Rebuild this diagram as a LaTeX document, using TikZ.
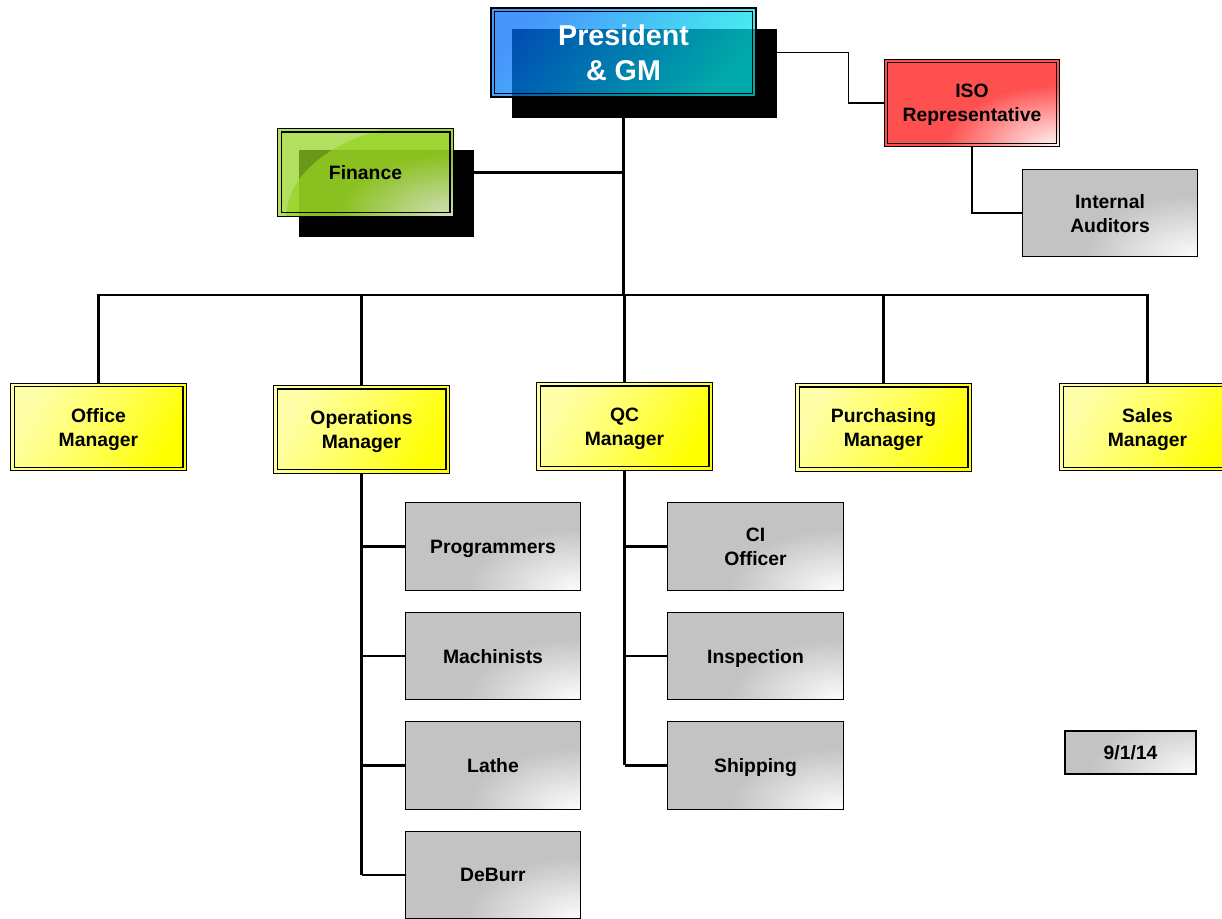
\documentclass[tikz,border=0pt]{standalone}
\usepackage{fontspec}
\setmainfont{Liberation Sans}
\usetikzlibrary{shadows,positioning,calc}

\definecolor{presA}{RGB}{0,110,250}
\definecolor{presB}{RGB}{0,235,235}
\definecolor{finA}{RGB}{150,210,35}
\definecolor{finB}{RGB}{250,250,245}
\definecolor{isoA}{RGB}{255,80,80}
\definecolor{isoB}{RGB}{255,245,245}
\definecolor{mgrA}{RGB}{255,255,170}
\definecolor{mgrB}{RGB}{255,255,0}
\definecolor{subA}{RGB}{195,195,195}
\definecolor{subB}{RGB}{252,252,252}
\colorlet{shA}{subA}
\colorlet{shB}{subB}

% light patch, flat outside
\pgfdeclareradialshading[shA,shB]{glowshade}{\pgfpoint{0bp}{0bp}}{color(0bp)=(shB);
  color(16bp)=(shA); color(50bp)=(shA)}

\newcommand\innerframe{\draw[line width=0.8pt]
  ([shift={(2.4pt,-2.4pt)}]path picture bounding box.north west) rectangle
  ([shift={(-2.4pt,2.4pt)}]path picture bounding box.south east);}
\newcommand\cornerglow[2]{\colorlet{shA}{#1}\colorlet{shB}{#2}\shade[shading=glowshade]
  (path picture bounding box.south east) ellipse (125pt and 72pt);}

\tikzset{
  box/.style={draw=black, line width=0.9pt, minimum width=131.5pt, minimum height=65.5pt,
    inner sep=0pt, text depth=0pt, align=center, font=\fontsize{14.5}{18}\selectfont\bfseries},
  blackshadow/.style={general shadow={fill=black, fill opacity=1, draw opacity=1,
    shadow xshift=15.75pt, shadow yshift=-15.75pt}},
  glow/.style 2 args={fill=#1, path picture={\cornerglow{#1}{#2}}},
  glowtwo/.style 2 args={fill=#1, path picture={\cornerglow{#1}{#2}\innerframe}},
  mgr/.style={box, top color=mgrA, bottom color=mgrB, middle color=mgrA!55!mgrB, shading angle=60,
    path picture={\innerframe}},
  sub/.style={box, glow={subA}{subB}},
  conn/.style={line width=1.8pt, line join=miter},
  thinconn/.style={line width=1pt},
}

\begin{document}
\begin{tikzpicture}[x=0.75pt, y=-0.75pt]
\useasboundingbox (0,0) rectangle (1222,919);
\clip (0,0) rectangle (1222,919);

% top of the chart
\node[box, blackshadow, minimum width=198.75pt, minimum height=66.75pt,
  top color=presA, bottom color=presB, shading angle=50, fill opacity=0.72, text opacity=1,
  path picture={\innerframe},
  text=white, font=\fontsize{21.5}{26}\selectfont\bfseries] (pres) at (623.5,52.5) {President\\\& GM};
\node[box, blackshadow, glowtwo={finA}{finB}, fill opacity=0.72, text opacity=1]
  (fin) at (365.5,172.5) {Finance};
\node[box, glowtwo={isoA}{isoB}] (iso) at (972,103) {ISO\\Representative};
\node[sub] (audit) at (1110,213) {Internal\\Auditors};

% managers
\node[mgr] (office) at (98.5,427) {Office\\Manager};
\node[mgr] (ops) at (361.5,429.5) {Operations\\Manager};
\node[mgr] (qc) at (624.5,426.5) {QC\\Manager};
\node[mgr] (purch) at (883.5,427.5) {Purchasing\\Manager};
\node[mgr] (sales) at (1147.5,427) {Sales\\Manager};

% staff
\foreach \n/\y/\t in {prog/546.5/Programmers, mach/656/Machinists, lathe/765.5/Lathe, deburr/875/DeBurr}
  \node[sub] (\n) at (493,\y) {\t};
\foreach \n/\y/\t in {ci/546.5/{CI\\Officer}, insp/656/Inspection, ship/765.5/Shipping}
  \node[sub] (\n) at (755.5,\y) {\t};

\node[sub, minimum width=98.25pt, minimum height=32.25pt] (date) at (1130.5,752.5) {9/1/14};

% lines
\coordinate (bus) at (0,295);
\draw[conn] (pres.south) -- (pres.south |- bus);
\draw[conn] (fin.east) -- (fin.east -| pres.south);
\draw[conn] (office.north) |- (purch.north |- bus) -- (purch.north);
\draw[conn] (qc.north |- bus) -| (sales.north);
\draw[conn] (ops.north) -- (ops.north |- bus);
\draw[conn] (qc.north) -- (qc.north |- bus);
\draw[thinconn] (pres.east) -- ++(92,0) |- (iso.west);
\draw[thinconn] (iso.south) |- (audit.west);

\draw[conn] (ops.south) -- (ops.south |- deburr.west);
\foreach \n in {prog,mach,lathe,deburr}
  \draw[conn] (ops.south |- \n.west) -- (\n.west);
\draw[conn] (qc.south) -- (qc.south |- ship.west);
\foreach \n in {ci,insp,ship}
  \draw[conn] (qc.south |- \n.west) -- (\n.west);
\end{tikzpicture}
\end{document}
